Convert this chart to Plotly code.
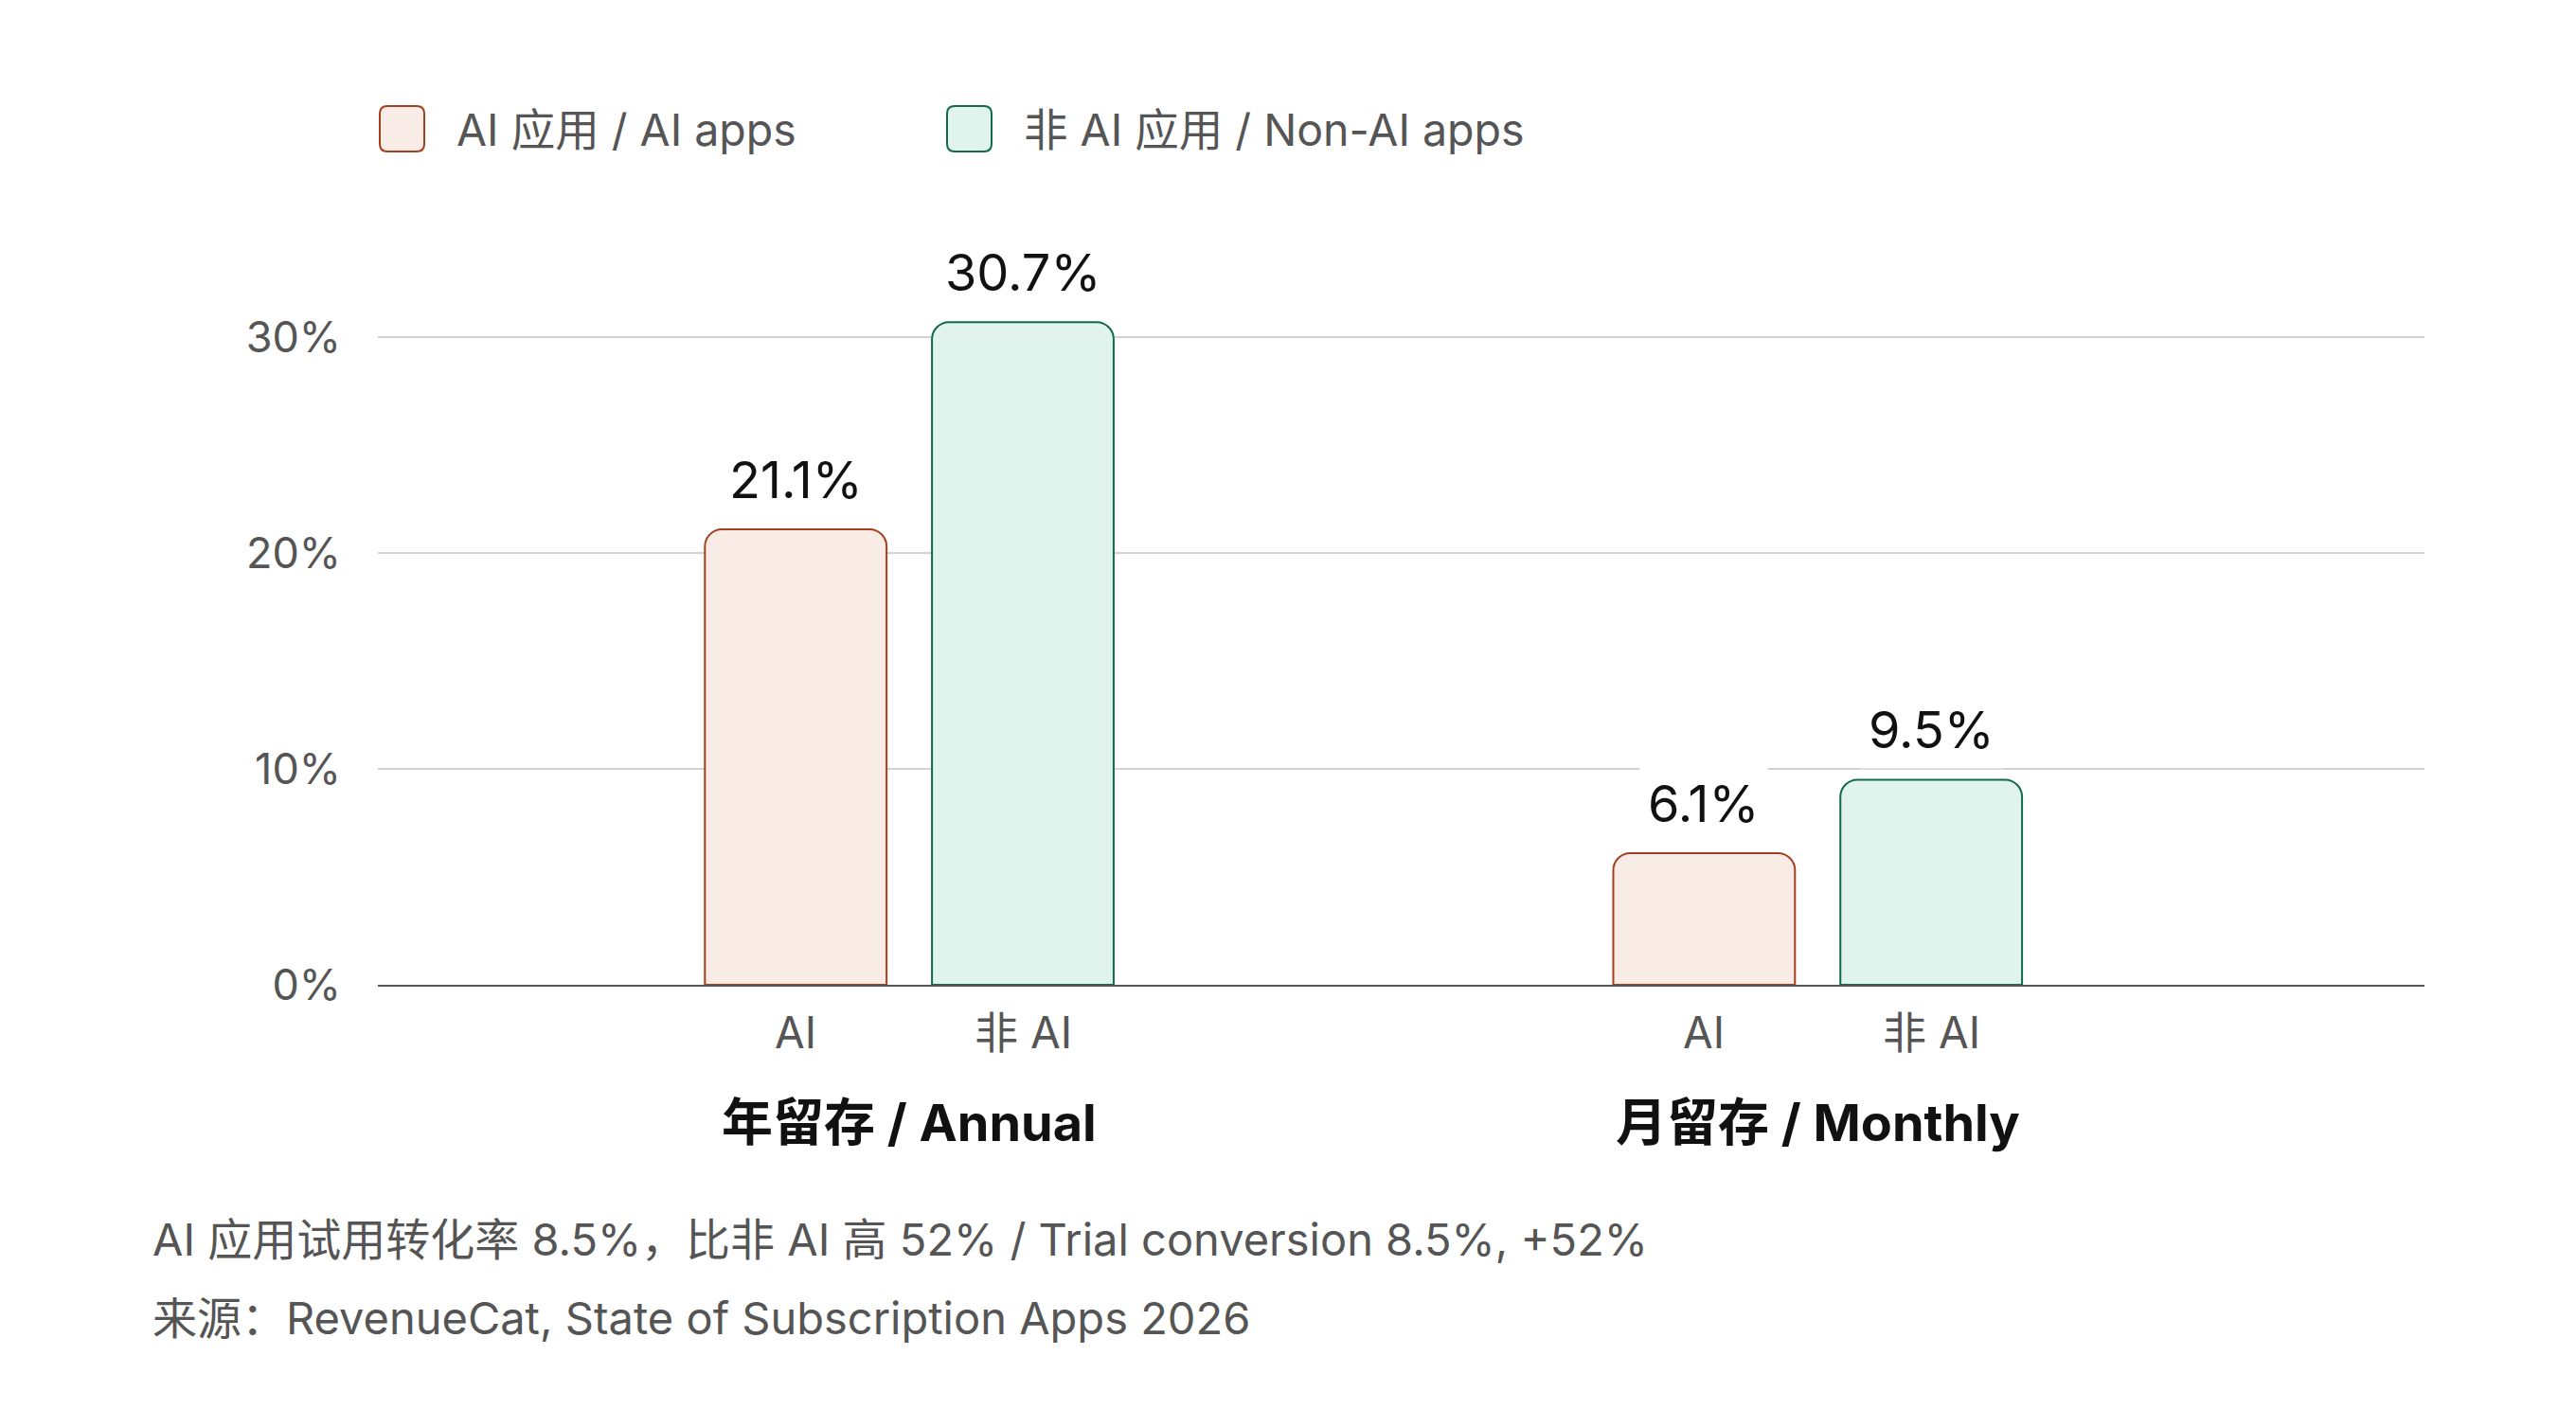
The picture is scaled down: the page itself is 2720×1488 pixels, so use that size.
import plotly.graph_objects as go

# ---------------- data ----------------
groups = ["年留存 / Annual", "月留存 / Monthly"]
series_names = ["AI 应用 / AI apps", "非 AI 应用 / Non-AI apps"]
bar_labels = ["AI", "非 AI"]
ai_values = [21.1, 6.1]
non_ai_values = [30.7, 9.5]
y_ticks = [0, 10, 20, 30]
y_tick_labels = ["0%", "10%", "20%", "30%"]
notes = [
    "AI 应用试用转化率 8.5%，比非 AI 高 52% / Trial conversion 8.5%, +52%",
    "来源：RevenueCat, State of Subscription Apps 2026",
]

# ---------------- style ----------------
BODY = 8  # default page margin of the html body
W, H = 2720 - 2 * BODY, 1488 - 2 * BODY
PW, PH = 2161, 780
ML, MT = 399 - BODY, 260 - BODY
MR, MB = W - ML - PW, H - MT - PH
FONT = "Inter, Noto Sans CJK SC, sans-serif"
GRAY = "#555555"
DARK = "#111111"
fills = ["#F9ECE6", "#E0F3EC"]
strokes = ["#A33F1D", "#11694F"]
BARGAP, GROUPGAP = 0.5, 0.2
slot = (1 - BARGAP) / 2
offsets = [-slot / 2, slot / 2]


def px_x(sx):
    # screen x -> paper
    return (sx - BODY - ML) / PW


def px_y(sy):
    # screen y -> paper
    return (MT + PH - (sy - BODY)) / PH


def rrect_path(x0, y0, x1, y1, r):
    P = lambda x, y: f"{px_x(x):.6f},{px_y(y):.6f}"
    return (
        f"M{P(x0 + r, y0)} L{P(x1 - r, y0)} Q{P(x1, y0)} {P(x1, y0 + r)} "
        f"L{P(x1, y1 - r)} Q{P(x1, y1)} {P(x1 - r, y1)} L{P(x0 + r, y1)} "
        f"Q{P(x0, y1)} {P(x0, y1 - r)} L{P(x0, y0 + r)} Q{P(x0, y0)} {P(x0 + r, y0)} Z"
    )


fig = go.Figure()
values = [ai_values, non_ai_values]
for name, vals, fc, lc in zip(series_names, values, fills, strokes):
    fig.add_bar(
        x=groups, y=vals, name=name, showlegend=False, hoverinfo="skip",
        marker=dict(color=fc, line=dict(color=lc, width=2), cornerradius=18),
    )

annotations = []
for si, vals in enumerate(values):
    for gi, v in enumerate(vals):
        annotations.append(dict(
            x=gi + offsets[si], y=v, xref="x", yref="y", text=f"{v:.1f}%",
            showarrow=False, yanchor="bottom", yshift=11,
            font=dict(family=FONT, size=54, color=DARK),
            bgcolor="white", borderpad=8,
        ))
        annotations.append(dict(
            x=gi + offsets[si], y=0, xref="x", yref="y", text=bar_labels[si],
            showarrow=False, yanchor="middle", yshift=-50,
            font=dict(family=FONT, size=46, color=GRAY),
        ))
for gi, g in enumerate(groups):
    annotations.append(dict(
        x=gi, y=0, xref="x", yref="y", text=f"<b>{g}</b>",
        showarrow=False, yanchor="middle", yshift=-145,
        font=dict(family=FONT, size=54, color=DARK),
    ))
for t, cy in zip(notes, [1308, 1391]):
    annotations.append(dict(
        x=px_x(159), y=px_y(cy), xref="paper", yref="paper", text=t,
        showarrow=False, xanchor="left", yanchor="middle",
        font=dict(family=FONT, size=47, color=GRAY),
    ))

shapes = []
legend_box_x = [401, 1000]
for name, fc, lc, bx in zip(series_names, fills, strokes, legend_box_x):
    shapes.append(dict(
        type="path", xref="paper", yref="paper",
        path=rrect_path(bx, 112, bx + 47, 160, 8),
        fillcolor=fc, line=dict(color=lc, width=2), layer="above",
    ))
    annotations.append(dict(
        x=px_x(bx + 79), y=px_y(137), xref="paper", yref="paper", text=name,
        showarrow=False, xanchor="left", yanchor="middle",
        font=dict(family=FONT, size=46.5, color=GRAY),
    ))

fig.update_layout(
    width=W, height=H,
    margin=dict(l=ML, r=MR, t=MT, b=MB, pad=0),
    paper_bgcolor="white", plot_bgcolor="white",
    barmode="group", bargap=BARGAP, bargroupgap=GROUPGAP,
    font=dict(family=FONT, color=GRAY),
    annotations=annotations, shapes=shapes,
    xaxis=dict(
        type="category", range=[-0.585, 1.668], showticklabels=False,
        showgrid=False, zeroline=False, showline=True, linecolor=GRAY,
        linewidth=2, layer="above traces", ticks="",
    ),
    yaxis=dict(
        range=[0, PH / (683.8 / 30)], tickmode="array", tickvals=y_ticks,
        ticktext=y_tick_labels,
        showgrid=True, gridcolor="#D2D2D2", gridwidth=2, zeroline=False,
        showline=False, ticks="", ticklabelstandoff=38,
        tickfont=dict(family=FONT, size=45, color=GRAY),
    ),
)

fig.write_html("out.html")
